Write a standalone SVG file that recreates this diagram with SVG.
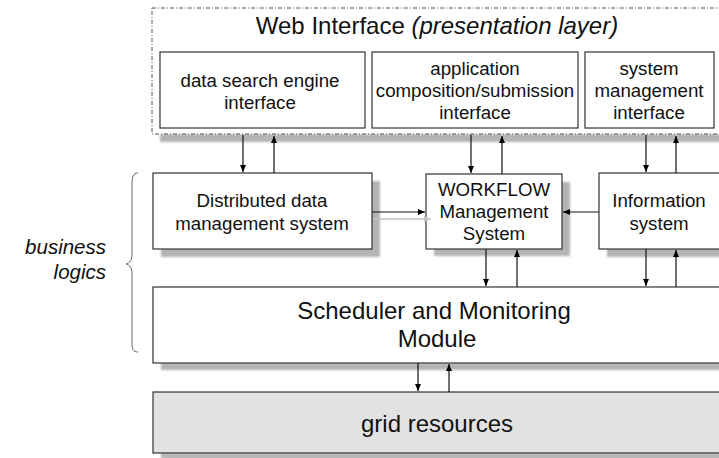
<svg xmlns="http://www.w3.org/2000/svg" width="719" height="458" viewBox="0 0 719 458">
<defs>
<marker id="ah" markerWidth="8" markerHeight="8" refX="7" refY="4" orient="auto" markerUnits="userSpaceOnUse"><path d="M0,1 L7,4 L0,7 z" fill="#000"/></marker>
<marker id="ahg" markerWidth="8" markerHeight="8" refX="7" refY="4" orient="auto" markerUnits="userSpaceOnUse"><path d="M0,1 L7,4 L0,7 z" fill="#c4c4c4"/></marker>
<filter id="blur" x="-10%" y="-10%" width="120%" height="130%"><feGaussianBlur stdDeviation="1.2"/></filter>
<style>
text{font-family:"Liberation Sans",Arial,sans-serif;fill:#111;text-anchor:middle}
.box{fill:#fff;stroke:#333;stroke-width:1.2}
.sh{fill:#b4b4b4;filter:url(#blur)}
.t16{font-size:18.7px}
.t24{font-size:24px}
.c{stroke:#111;stroke-width:1.2;fill:none;marker-end:url(#ah)}
</style>
</defs>
<rect width="719" height="458" fill="#fff"/>
<g id="web-interface">
<rect class="sh" x="160" y="134" width="565" height="8"/>
<rect x="152" y="8" width="575" height="126" fill="#fff" stroke="#555" stroke-width="1" stroke-dasharray="4,2,1,2"/>
<text class="t24" x="437" y="34">Web Interface <tspan font-style="italic">(presentation layer)</tspan></text>
</g>
<g id="data-search">
<rect class="box" x="160" y="52" width="205" height="76"/>
<text class="t16" x="260" y="87">data search engine</text>
<text class="t16" x="260" y="109">interface</text>
</g>
<g id="app-composition">
<rect class="box" x="372" y="52" width="206" height="76"/>
<text class="t16" x="475" y="75">application</text>
<text class="t16" x="475" y="97">composition/submission</text>
<text class="t16" x="475" y="119">interface</text>
</g>
<g id="system-management">
<rect class="box" x="585" y="52" width="129" height="76"/>
<text class="t16" x="649" y="75">system</text>
<text class="t16" x="649" y="97">management</text>
<text class="t16" x="649" y="119">interface</text>
</g>
<g id="distributed-data">
<rect class="sh" x="161" y="181" width="219" height="76"/>
<rect class="box" x="153" y="173" width="219" height="76"/>
<text class="t16" x="262" y="207">Distributed  data</text>
<text class="t16" x="262" y="230">management system</text>
</g>
<g id="workflow">
<rect class="sh" x="434" y="182" width="136" height="74"/>
<rect class="box" x="426" y="174" width="136" height="75"/>
<text class="t16" x="494" y="196">WORKFLOW</text>
<text class="t16" x="494" y="218">Management</text>
<text class="t16" x="494" y="240">System</text>
</g>
<g id="information-system">
<rect class="sh" x="607" y="181" width="130" height="76"/>
<rect class="box" x="599" y="173" width="130" height="76"/>
<text class="t16" x="659" y="207">Information</text>
<text class="t16" x="659" y="230">system</text>
</g>
<g id="scheduler">
<rect class="sh" x="161" y="363" width="570" height="7"/>
<rect class="box" x="153" y="287" width="575" height="76"/>
<text class="t24" x="434" y="319">Scheduler and Monitoring</text>
<text class="t24" x="437" y="347">Module</text>
</g>
<g id="grid-resources">
<rect class="sh" x="161" y="453" width="570" height="6"/>
<rect x="153" y="392" width="575" height="61" fill="#e2e2e2" stroke="#333" stroke-width="1.2"/>
<text class="t24" x="437" y="432">grid resources</text>
</g>
<g id="business-logics">
<path d="M138,173 C133,173 132,177 132,185 L132,254 C132,260 130,263 126,264 C130,265 132,268 132,274 L132,342 C132,349 133,352 138,352" fill="none" stroke="#666" stroke-width="1"/>
<text x="106" y="254" font-size="20.5" font-style="italic" style="text-anchor:end">business</text>
<text x="106" y="279" font-size="20.5" font-style="italic" style="text-anchor:end">logics</text>
</g>
<g id="connectors">
<line class="c" x1="243" y1="135" x2="243" y2="172"/>
<line class="c" x1="274" y1="173" x2="274" y2="136"/>
<line class="c" x1="471" y1="135" x2="471" y2="173"/>
<line class="c" x1="502" y1="174" x2="502" y2="136"/>
<line class="c" x1="646" y1="135" x2="646" y2="172"/>
<line class="c" x1="676" y1="173" x2="676" y2="136"/>
<line class="c" x1="486" y1="249" x2="486" y2="286"/>
<line class="c" x1="517" y1="287" x2="517" y2="250"/>
<line class="c" x1="646" y1="249" x2="646" y2="286"/>
<line class="c" x1="676" y1="287" x2="676" y2="250"/>
<line class="c" x1="418" y1="363" x2="418" y2="391"/>
<line class="c" x1="449" y1="392" x2="449" y2="364"/>
<line class="c" x1="372" y1="212" x2="425" y2="212"/>
<line x1="373" y1="219" x2="431" y2="219" stroke="#c4c4c4" stroke-width="1.5" marker-end="url(#ahg)"/>
<line class="c" x1="599" y1="212" x2="563" y2="212"/>
</g>
</svg>
